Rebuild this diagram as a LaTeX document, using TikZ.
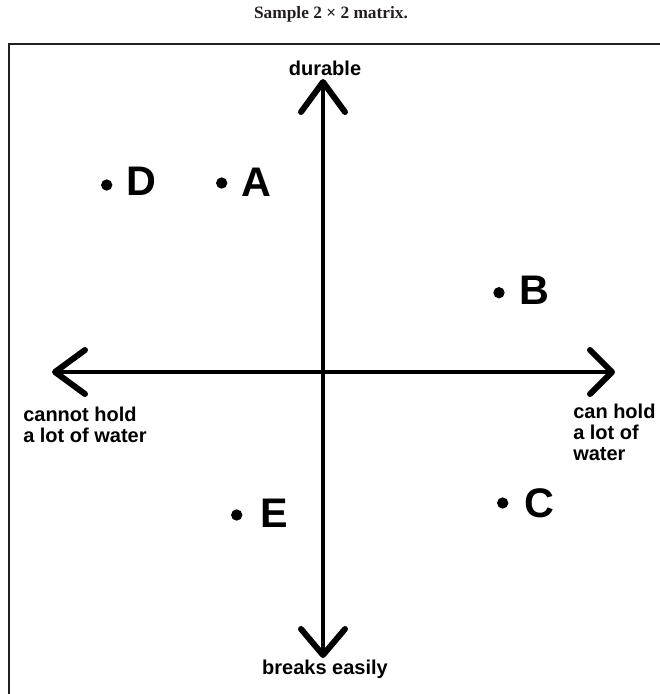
\documentclass[tikz,border=0pt]{standalone}
\usepackage{fontspec}
\setmainfont{Liberation Serif}
\newfontfamily\labfont{Liberation Sans}
\definecolor{framegray}{RGB}{35,31,32}
\begin{document}
\begin{tikzpicture}[x=0.75pt,y=-0.75pt,
  shaft/.style={line width=2.4pt},
  chev/.style={line width=4.5pt, line cap=round, line join=round},
  axlab/.style={font=\labfont\bfseries\fontsize{15}{15.75}\selectfont, inner sep=0pt, align=left},
  ptlab/.style={font=\labfont\bfseries\fontsize{31}{33}\selectfont, inner sep=0pt},
  ptdot/.style={circle, fill=black, inner sep=0pt, minimum size=8.5pt}]
\useasboundingbox (0,0) rectangle (660,694);
% title and frame
\node[font=\bfseries\fontsize{13}{14}\selectfont, text=framegray, inner sep=0pt] (title) at (331,14) {Sample 2 × 2 matrix.};
\draw[framegray, line width=1.6pt] (9,694) -- (9,44) -- (660,44);
% axes
\coordinate (top) at (323,82);
\coordinate (bot) at (323,655);
\coordinate (lft) at (55,372);
\coordinate (rgt) at (612,372);
\draw[shaft] (top) -- (bot);
\draw[shaft] (lft) -- (rgt);
\draw[chev] (top) ++(-22,30) -- (top) -- ++(22,30);
\draw[chev] (bot) ++(-22,-26) -- (bot) -- ++(22,-26);
\draw[chev] (lft) ++(30,-22) -- (lft) -- ++(30,22);
\draw[chev] (rgt) ++(-22,-22) -- (rgt) -- ++(-22,22);
% axis labels
\node[axlab] (durable) at (325,68) {durable};
\node[axlab] (breaks) at (325,669) {breaks easily};
\node[axlab, anchor=north west] (cannot) at (23,407) {cannot hold\\a lot of water};
\node[axlab, anchor=north west] (can) at (573,404) {can hold\\a lot of\\water};
% points
\node[ptdot] (dD) at (106.7,185) {};
\node[ptlab] (lD) at (141,181) {D};
\node[ptdot] (dA) at (221.7,183) {};
\node[ptlab] (lA) at (256,182) {A};
\node[ptdot] (dB) at (499,292.7) {};
\node[ptlab] (lB) at (534,290) {B};
\node[ptdot] (dC) at (502.7,503) {};
\node[ptlab] (lC) at (539,503) {C};
\node[ptdot] (dE) at (236.7,515) {};
\node[ptlab] (lE) at (274.5,513) {E};
\end{tikzpicture}
\end{document}
